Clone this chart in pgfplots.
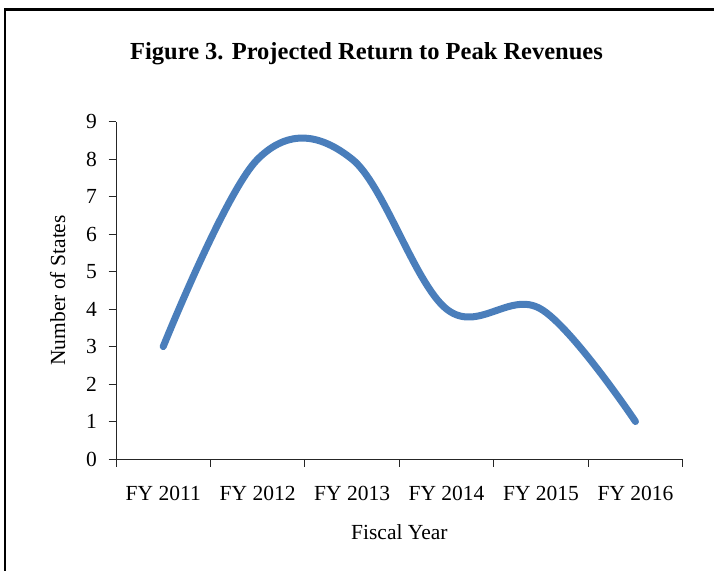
\documentclass[border=0pt]{standalone}
\usepackage{fontspec}
\setmainfont{Liberation Serif}
\usepackage{pgfplots}
\pgfplotsset{compat=1.18}
\definecolor{lineblue}{HTML}{4A7EBB}
\begin{document}
\begin{tikzpicture}[x=1pt,y=1pt]
\useasboundingbox (0,0) rectangle (714,570);
\draw[line width=2.8pt] (5,-5) -- (5,560.5) -- (720,560.5);
\node[font=\fontsize{24.5}{24.5}\selectfont\bfseries, anchor=base, inner sep=0pt] at (366.5,510.7) {Figure 3. Projected Return to Peak Revenues};
\begin{axis}[
  at={(116pt,111pt)}, anchor=south west,
  scale only axis, width=566.7pt, height=337.3pt,
  xmin=0.5, xmax=6.5, ymin=0, ymax=9,
  axis lines*=left,
  axis line style={black!85, line width=0.9pt},
  tick align=outside, major tick length=7.5pt,
  tick style={black!85, line width=0.9pt},
  xtick={0.5,1.5,...,6.5}, xticklabels={},
  extra x ticks={1,2,3,4,5,6},
  extra x tick labels={FY 2011,FY 2012,FY 2013,FY 2014,FY 2015,FY 2016},
  extra x tick style={major tick length=0pt, tick style={draw=none}},
  xticklabel shift=24pt,
  yticklabel shift=8pt,
  ytick={0,1,...,9},
  /pgf/number format/assume math mode=true,
  ticklabel style={font=\fontsize{21.5}{21.5}\selectfont},
  xlabel={Fiscal Year},
  ylabel={Number of States},
  xlabel shift=-32pt,
  ylabel shift=14pt,
  label style={font=\fontsize{21.5}{21.5}\selectfont},
  clip=false,
]
\addplot[lineblue, line width=7pt, smooth, tension=0.6, line cap=round, line join=round] coordinates {(1,3) (2,8) (3,8) (4,4) (5,4) (6,1)};
\end{axis}
\end{tikzpicture}
\end{document}
